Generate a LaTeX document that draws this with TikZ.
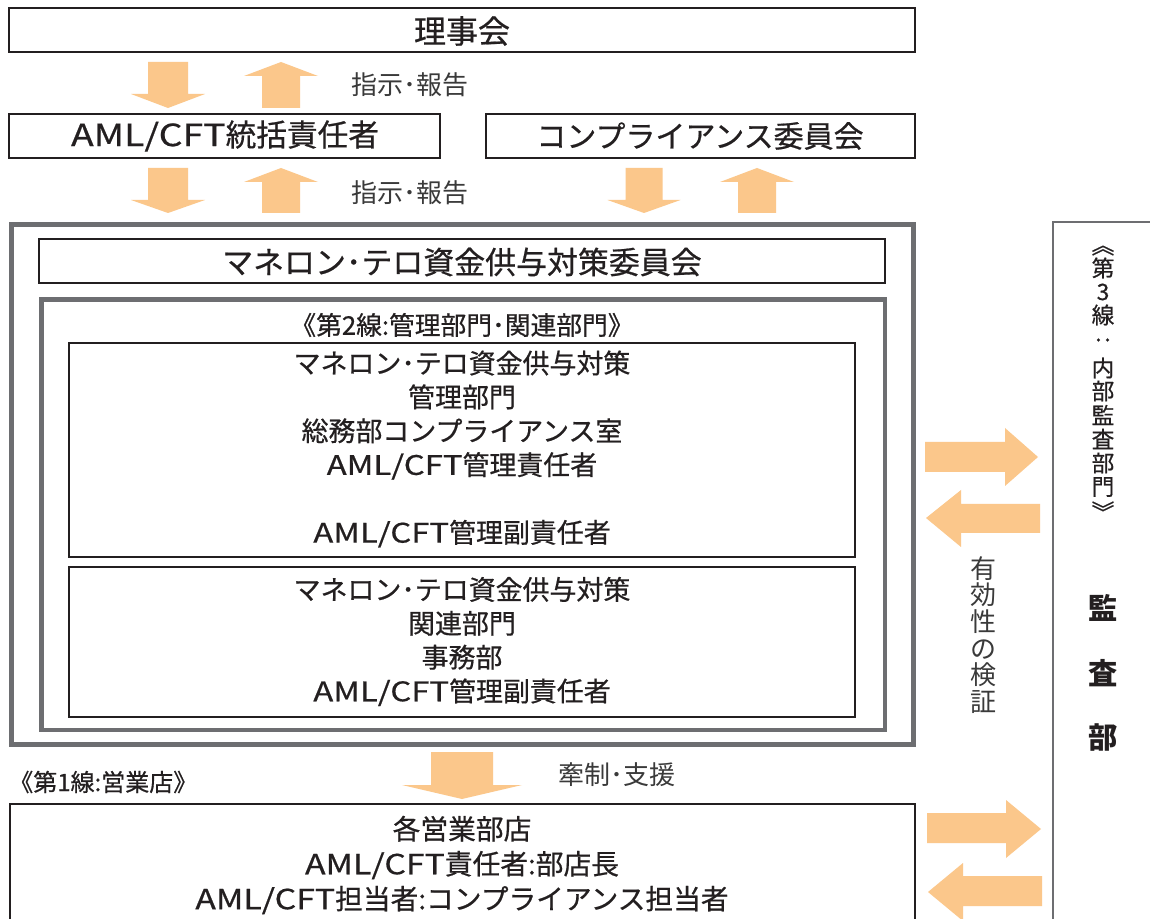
\documentclass[tikz,border=0pt]{standalone}
\usepackage{fontspec}
\setmainfont{Noto Sans CJK JP}
\newfontfamily\jpmed{Noto Sans CJK JP}[FakeBold=0.6]
\definecolor{arrowfill}{HTML}{FBC78B}
\definecolor{thickgray}{HTML}{6D6E71}
\definecolor{inkc}{HTML}{231F20}
\definecolor{labelc}{HTML}{3A3A3A}
\newcommand{\lat}[1]{{\addfontfeature{FakeStretch=1.22}#1}}
\newcommand{\arrDown}[6]{\fill[arrowfill] ({#1-#5},#2) -- ({#1+#5},#2) -- ({#1+#5},#3) -- ({#1+#6},#3) -- (#1,#4) -- ({#1-#6},#3) -- ({#1-#5},#3) -- cycle;}
\newcommand{\arrUp}[6]{\fill[arrowfill] ({#1-#5},#2) -- ({#1+#5},#2) -- ({#1+#5},#3) -- ({#1+#6},#3) -- (#1,#4) -- ({#1-#6},#3) -- ({#1-#5},#3) -- cycle;}
\begin{document}
\begin{tikzpicture}[x=0.75pt,y=-0.75pt,
  thinbox/.style={draw=inkc,line width=0.95pt},
  thickbox/.style={draw=thickgray,line width=3.4pt},
  headtxt/.style={text=inkc,font=\jpmed\fontsize{22.5}{27}\selectfont,inner sep=0pt},
  bodytxt/.style={text=inkc,font=\jpmed\fontsize{20.2}{25.4}\selectfont,align=center,inner sep=0pt},
  labeltxt/.style={text=labelc,font=\fontsize{19.5}{22}\selectfont,inner sep=0pt},
  vlabel/.style={text=labelc,font=\fontsize{19.5}{20}\selectfont,align=center,inner sep=0pt},
  vthird/.style={text=inkc,font=\jpmed\fontsize{17}{18}\selectfont,inner sep=0pt},
  auditc/.style={text=inkc,font=\fontsize{22}{24}\selectfont\bfseries,inner sep=0pt}]
\useasboundingbox (0,0) rectangle (1150,919);
\clip (0,0) rectangle (1150,919);
\fill[white] (0,0) rectangle (1150,919);

% boxes
\draw[thinbox] (9,8) rectangle (915,52);
\node[headtxt,font=\jpmed\fontsize{24}{28}\selectfont] (rijikai) at (462,31) {理事会};

\draw[thinbox] (9,114) rectangle (440,158);
\node[headtxt,font=\jpmed\fontsize{23}{27}\selectfont] (toukatsu) at (225,136) {\lat{AML/CFT}統括責任者};

\draw[thinbox] (486,114) rectangle (915,158);
\node[headtxt] (compl) at (700,136) {コンプライアンス委員会};

\draw[thickbox] (11.5,224.5) rectangle (913.5,744.5);
\draw[thinbox] (39,239) rectangle (885,283);
\node[headtxt,font=\jpmed\fontsize{23.2}{27}\selectfont] (iinkai) at (462,262) {マネロン･テロ資金供与対策委員会};

\draw[thickbox] (41.5,299.5) rectangle (885,730);
\node[text=inkc,font=\jpmed\fontsize{19.3}{22}\selectfont,inner sep=0pt] (second) at (462,325) {《第2線:管理部門･関連部門》};

\draw[thinbox] (69,343) rectangle (855,557);
\node[bodytxt] (kanri) at (462,449) {マネロン･テロ資金供与対策\\管理部門\\総務部コンプライアンス室\\\lat{AML/CFT}管理責任者\\\strut\\\lat{AML/CFT}管理副責任者};

\draw[thinbox] (69,567) rectangle (855,717);
\node[bodytxt] (kanren) at (462,641.5) {マネロン･テロ資金供与対策\\関連部門\\事務部\\\lat{AML/CFT}管理副責任者};

\node[text=inkc,font=\jpmed\fontsize{18}{20}\selectfont,inner sep=0pt,anchor=west] (first) at (9,782) {《第1線:営業店》};

\draw[thinbox] (10,804) rectangle (915,940);
\node[bodytxt,font=\jpmed\fontsize{20.8}{26.2}\selectfont] (eigyo) at (462,865) {各営業部店\\\lat{AML/CFT}責任者:部店長\\\lat{AML/CFT}担当者:コンプライアンス担当者};

\draw[draw=thickgray,line width=1pt] (1053,222) rectangle (1170,940);
% vertical third-line title
\node[vthird,rotate=-90] (t0) at (1103,245) {《};
\node[vthird] (t1) at (1103,268) {第};
\node[vthird] (t2) at (1103,292) {3};
\node[vthird] (t3) at (1103,315) {線};
\node[vthird,rotate=-90] (t4) at (1103,340) {:};
\node[vthird] (t5) at (1103,368) {内};
\node[vthird] (t6) at (1103,391) {部};
\node[vthird] (t7) at (1103,415) {監};
\node[vthird] (t8) at (1103,439) {査};
\node[vthird] (t9) at (1103,463) {部};
\node[vthird] (t10) at (1103,487) {門};
\node[vthird,rotate=-90] (t11) at (1103,512) {》};
\node[auditc] (a1) at (1103,608) {監};
\node[auditc] (a2) at (1103,673) {査};
\node[auditc] (a3) at (1103,737) {部};

% labels
\node[labeltxt] (lab1) at (410,85) {指示･報告};
\node[labeltxt] (lab2) at (410,193) {指示･報告};
\node[labeltxt] (lab3) at (617,775) {牽制･支援};
\node[vlabel] (yuko) at (983,635) {有\\効\\性\\の\\検\\証};

% vertical block arrows
\arrDown{168}{62}{94}{108}{20}{37}
\arrUp{281}{108}{76}{62}{19}{37}
\arrDown{168}{168}{200}{213}{20}{37}
\arrUp{281}{213}{182}{168}{19}{37}
\arrDown{644}{168}{200}{213}{18.5}{36.5}
\arrUp{757}{213}{182}{168}{19}{37}
\arrDown{462}{752}{785}{799}{31}{60}

% horizontal block arrows
\fill[arrowfill] (925,442) -- (1005,442) -- (1005,428) -- (1038,457) -- (1005,486) -- (1005,472) -- (925,472) -- cycle;
\fill[arrowfill] (1040,504) -- (961,504) -- (961,490) -- (926,518) -- (961,547) -- (961,533) -- (1040,533) -- cycle;
\fill[arrowfill] (927,813) -- (1006,813) -- (1006,800) -- (1041,829) -- (1006,858) -- (1006,843) -- (927,843) -- cycle;
\fill[arrowfill] (1042,876) -- (963,876) -- (963,863) -- (928,892) -- (963,921) -- (963,906) -- (1042,906) -- cycle;
\end{tikzpicture}
\end{document}
